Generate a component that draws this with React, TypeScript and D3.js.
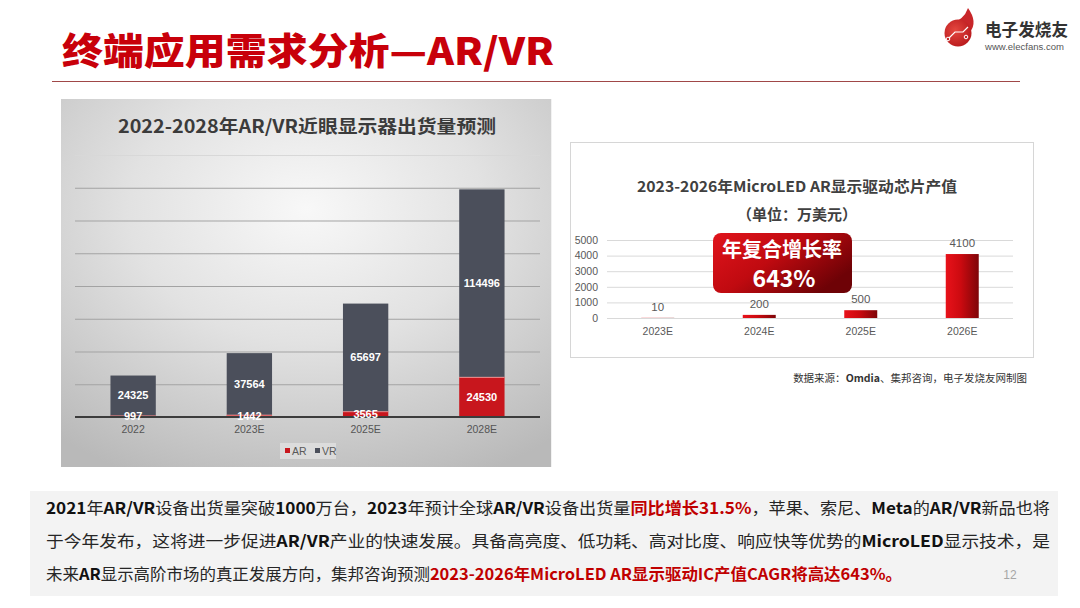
import React from "react";
import * as d3 from "d3";

// ---------- data ----------
const leftCategories = ["2022", "2023E", "2025E", "2028E"];
const arShipments = [997, 1442, 3565, 24530];
const vrShipments = [24325, 37564, 65697, 114496];
const leftGridTicks = [20000, 40000, 60000, 80000, 100000, 120000, 140000, 160000];
const leftSeries = ["AR", "VR"];

const rightCategories = ["2023E", "2024E", "2025E", "2026E"];
const chipValues = [10, 200, 500, 4100];
const rightTicks = [0, 1000, 2000, 3000, 4000, 5000];

const CJK = "'Noto Sans CJK SC', 'Noto Sans', sans-serif";
const LAT = "Arial, 'Liberation Sans', 'Noto Sans CJK SC', sans-serif";

type Seg = [string, "n" | "b" | "r"];
const bodyLines: Seg[][] = [
  [
    ["2021", "b"], ["年", "n"], ["AR/VR", "b"], ["设备出货量突破", "n"], ["1000", "b"], ["万台，", "n"],
    ["2023", "b"], ["年预计全球", "n"], ["AR/VR", "b"], ["设备出货量", "n"], ["同比增长31.5%", "r"],
    ["，苹果、索尼、", "n"], ["Meta", "b"], ["的", "n"], ["AR/VR", "b"], ["新品也将", "n"],
  ],
  [
    ["于今年发布，这将进一步促进", "n"], ["AR/VR", "b"], ["产业的快速发展。具备高亮度、低功耗、高对比度、响应快等优势的", "n"],
    ["MicroLED", "b"], ["显示技术，是", "n"],
  ],
  [
    ["未来", "n"], ["AR", "b"], ["显示高阶市场的真正发展方向，集邦咨询预测", "n"],
    ["2023-2026年MicroLED AR显示驱动IC产值CAGR将高达643%。", "r"],
  ],
];
const bodyLineEnds = [1050, 1050, 902];

export default function App() {
  // ---------- left chart scales ----------
  const lx = d3.scaleBand<string>().domain(leftCategories).range([75, 540]).paddingInner(0.61).paddingOuter(0.305);
  const ly = d3.scaleLinear().domain([0, 160000]).range([417, 155]);
  const rows = leftCategories.map((c, i) => ({ cat: c, AR: arShipments[i], VR: vrShipments[i] }));
  const stacked = d3.stack<any>().keys(leftSeries)(rows);
  const leftColors: Record<string, string> = { AR: "#c8161d", VR: "#4b4f5b" };

  // ---------- right chart scales ----------
  const rx = d3.scaleBand<string>().domain(rightCategories).range([607, 1013]).paddingInner(0.675).paddingOuter(0.3375);
  const ry = d3.scaleLinear().domain([0, 5000]).range([318, 240]);

  const segStyle = (t: Seg[1]) =>
    t === "n"
      ? { fontWeight: 400, fill: "#262626" }
      : t === "b"
      ? { fontWeight: 700, fill: "#111" }
      : { fontWeight: 700, fill: "#c00000" };

  return (
    <svg
      width={1080}
      height={608}
      viewBox="0 0 1080 608"
      style={{ position: "absolute", left: 0, top: 0, background: "#fff" }}
    >
      <defs>
        <radialGradient id="leftBg" cx="50%" cy="30%" r="80%">
          <stop offset="0%" stopColor="#f8f8f8" />
          <stop offset="45%" stopColor="#e2e2e2" />
          <stop offset="100%" stopColor="#b9b9b9" />
        </radialGradient>
        <linearGradient id="barGrad" x1="0" y1="0" x2="1" y2="0">
          <stop offset="0%" stopColor="#e8121a" />
          <stop offset="45%" stopColor="#cc0a10" />
          <stop offset="100%" stopColor="#7e0508" />
        </linearGradient>
        <linearGradient id="boxGrad" x1="0" y1="0" x2="1" y2="0.6">
          <stop offset="0%" stopColor="#e0141c" />
          <stop offset="50%" stopColor="#c00a10" />
          <stop offset="100%" stopColor="#6e0206" />
        </linearGradient>
        <radialGradient id="logoGrad" cx="40%" cy="40%" r="70%">
          <stop offset="0%" stopColor="#e5473f" />
          <stop offset="100%" stopColor="#b5161a" />
        </radialGradient>
      </defs>

      {/* ---------- header ---------- */}
      <text
        x={62}
        y={65}
        fontFamily={CJK}
        fontWeight={900}
        fontSize={37}
        fill="#c8000a"
        textLength={492}
        lengthAdjust="spacingAndGlyphs"
      >
        终端应用需求分析—AR/VR
      </text>
      <line x1={52} x2={1020} y1={81.5} y2={81.5} stroke="#a04848" strokeWidth={1.2} />

      {/* logo */}
      <g>
        <path d="M950 24 Q964 20 968 8 Q978 22 970 32 Z" fill="#c8262a" />
        <circle cx={958} cy={33} r={13.5} fill="url(#logoGrad)" />
        <path d="M949 38 L955 32 L963 32 L968 27" stroke="#fff" strokeWidth={1.2} fill="none" />
        <circle cx={948} cy={39} r={1.8} fill="none" stroke="#fff" strokeWidth={1} />
        <circle cx={966} cy={37} r={1.8} fill="none" stroke="#fff" strokeWidth={1} />
        <text x={985} y={36} fontFamily={CJK} fontWeight={700} fontSize={17} fill="#333" textLength={83} lengthAdjust="spacingAndGlyphs">
          电子发烧友
        </text>
        <text x={985} y={50} fontFamily={LAT} fontSize={8.5} fill="#555" textLength={79} lengthAdjust="spacingAndGlyphs">
          www.elecfans.com
        </text>
      </g>

      {/* ---------- left chart ---------- */}
      <rect x={61} y={99} width={491} height={368} fill="url(#leftBg)" />
      <line x1={551.5} x2={551.5} y1={99} y2={467} stroke="#f2f2f2" strokeWidth={1} />
      <text
        x={307}
        y={133}
        textAnchor="middle"
        fontFamily={CJK}
        fontWeight={700}
        fontSize={18}
        fill="#3b3b3b"
        textLength={378}
        lengthAdjust="spacingAndGlyphs"
      >
        2022-2028年AR/VR近眼显示器出货量预测
      </text>
      {leftGridTicks.map((t) => (
        <line
          key={t}
          x1={75}
          x2={540}
          y1={ly(t) + 0.5}
          y2={ly(t) + 0.5}
          stroke={t === 160000 ? "#d8d8d8" : "#a3a3a3"}
          strokeWidth={1}
        />
      ))}
      {stacked.map((s) =>
        s.map((d, i) => {
          const x = lx(leftCategories[i])!;
          const y0 = ly(d[0]);
          const y1 = ly(d[1]);
          return (
            <g key={s.key + i}>
              <rect x={x} y={y1} width={lx.bandwidth()} height={y0 - y1} fill={leftColors[s.key]} />
              {s.key === "AR" && (
                <line x1={x} x2={x + lx.bandwidth()} y1={y1 + 0.5} y2={y1 + 0.5} stroke="#f19a9a" strokeWidth={1} />
              )}
            </g>
          );
        })
      )}
      <line x1={75} x2={540} y1={417} y2={417} stroke="#3c3c3c" strokeWidth={2} />
      {stacked.map((s) =>
        s.map((d, i) => {
          const x = lx(leftCategories[i])! + lx.bandwidth() / 2;
          const yc = (ly(d[0]) + ly(d[1])) / 2;
          return (
            <text
              key={"l" + s.key + i}
              x={x}
              y={yc}
              dy="0.36em"
              textAnchor="middle"
              fontFamily={LAT}
              fontWeight={700}
              fontSize={11}
              fill="#fff"
            >
              {d[1] - d[0]}
            </text>
          );
        })
      )}
      {leftCategories.map((c) => (
        <text
          key={c}
          x={lx(c)! + lx.bandwidth() / 2}
          y={429}
          dy="0.36em"
          textAnchor="middle"
          fontFamily={LAT}
          fontSize={10.5}
          fill="#555"
        >
          {c}
        </text>
      ))}
      {/* legend */}
      <rect x={280} y={443} width={56} height={16} fill="#e9e9e9" opacity={0.6} />
      {leftSeries.map((k, i) => (
        <g key={k} transform={`translate(${285 + i * 30},451)`}>
          <rect x={0} y={-3} width={5} height={5} fill={leftColors[k]} />
          <text x={7} y={0} dy="0.36em" fontFamily={LAT} fontSize={10.5} fill="#595959">
            {k}
          </text>
        </g>
      ))}

      {/* ---------- right chart ---------- */}
      <rect x={570.5} y={142.5} width={463} height={215} fill="#fff" stroke="#d6d6d6" strokeWidth={1} />
      <text
        x={797}
        y={192}
        textAnchor="middle"
        fontFamily={CJK}
        fontWeight={700}
        fontSize={15}
        fill="#404040"
        textLength={320}
        lengthAdjust="spacingAndGlyphs"
      >
        2023-2026年MicroLED AR显示驱动芯片产值
      </text>
      <text x={797} y={220} textAnchor="middle" fontFamily={CJK} fontWeight={700} fontSize={15} fill="#404040">
        （单位：万美元）
      </text>
      {rightTicks.map((t) => (
        <g key={t}>
          <line x1={607} x2={1013} y1={ry(t) + 0.5} y2={ry(t) + 0.5} stroke="#d9d9d9" strokeWidth={1} />
          <text x={598} y={ry(t)} dy="0.36em" textAnchor="end" fontFamily={LAT} fontSize={10.5} fill="#595959">
            {t}
          </text>
        </g>
      ))}
      {chipValues.map((v, i) => {
        const x = rx(rightCategories[i])!;
        return (
          <g key={i}>
            <rect x={x} y={ry(v)} width={rx.bandwidth()} height={ry(0) - ry(v)} fill="url(#barGrad)" />
            <text
              x={x + rx.bandwidth() / 2}
              y={ry(v) - 7}
              textAnchor="middle"
              fontFamily={LAT}
              fontSize={11.5}
              fill="#595959"
            >
              {v}
            </text>
          </g>
        );
      })}
      {rightCategories.map((c) => (
        <text
          key={c}
          x={rx(c)! + rx.bandwidth() / 2}
          y={331}
          dy="0.36em"
          textAnchor="middle"
          fontFamily={LAT}
          fontSize={10.5}
          fill="#595959"
        >
          {c}
        </text>
      ))}
      {/* CAGR callout */}
      <rect x={713} y={233} width={139} height={60} rx={8} fill="url(#boxGrad)" />
      <text
        x={782}
        y={257}
        textAnchor="middle"
        fontFamily={CJK}
        fontWeight={700}
        fontSize={20}
        fill="#fff"
      >
        年复合增长率
      </text>
      <text x={784} y={287} textAnchor="middle" fontFamily={CJK} fontWeight={700} fontSize={23} fill="#fff">
        643%
      </text>
      {/* source */}
      <text x={1027} y={382} textAnchor="end" fontFamily={CJK} fontSize={10.5} fill="#333">
        数据来源：<tspan fontWeight={700}>Omdia</tspan>、集邦咨询，电子发烧友网制图
      </text>

      {/* ---------- bottom text box ---------- */}
      <rect x={30} y={491} width={1028} height={105} fill="#f3f3f3" />
      {bodyLines.map((line, li) => (
        <text
          key={li}
          x={46}
          y={508 + li * 33}
          dy="0.36em"
          fontFamily={CJK}
          fontSize={16}
          textLength={bodyLineEnds[li] - 46}
          lengthAdjust="spacingAndGlyphs"
        >
          {line.map(([t, s], si) => (
            <tspan key={si} {...segStyle(s)}>
              {t}
            </tspan>
          ))}
        </text>
      ))}
      <text x={1010} y={575} dy="0.36em" textAnchor="middle" fontFamily={LAT} fontSize={12} fill="#a6a6a6">
        12
      </text>
    </svg>
  );
}
